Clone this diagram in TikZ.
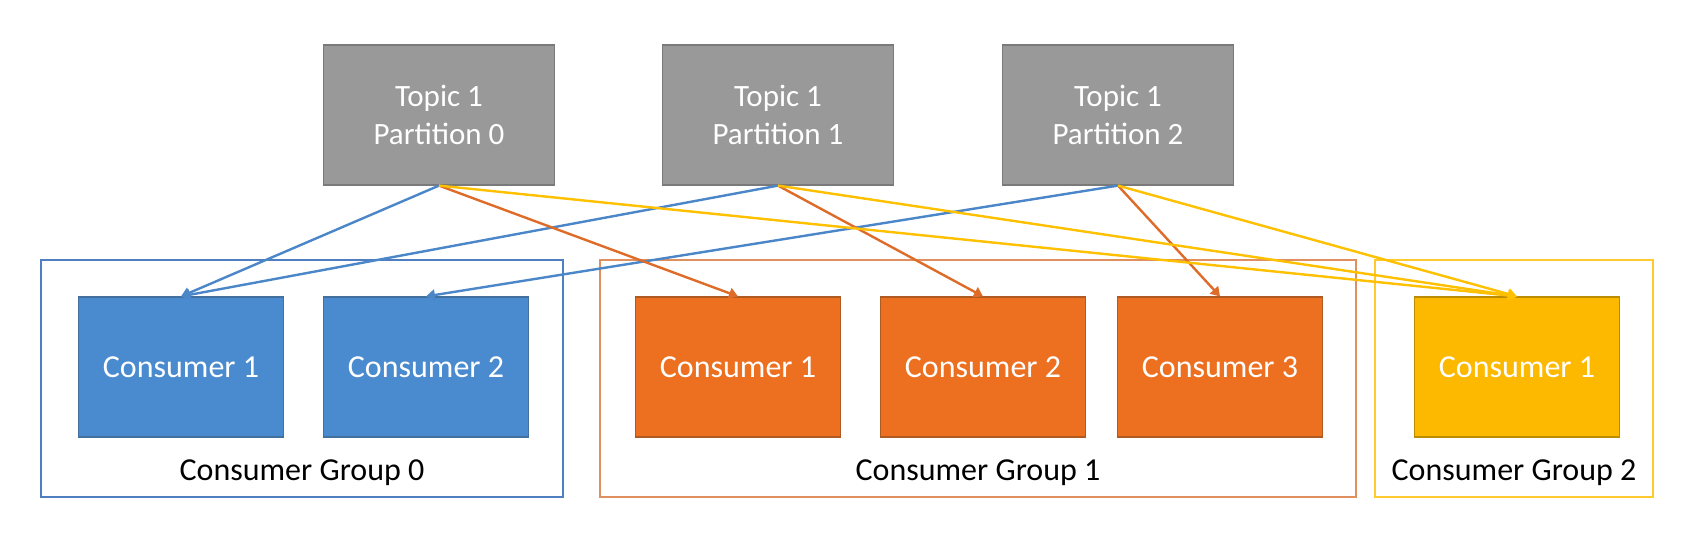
\documentclass[tikz,border=0pt]{standalone}
\usepackage{fontspec}
\setmainfont{Carlito}
\usetikzlibrary{arrows.meta}
\definecolor{topicfill}{HTML}{999999}
\definecolor{topicdraw}{HTML}{7A7A7A}
\definecolor{bluefill}{HTML}{4A8BCF}
\definecolor{bluedraw}{HTML}{41719C}
\definecolor{orangefill}{HTML}{ED7020}
\definecolor{orangedraw}{HTML}{AE5A21}
\definecolor{yellowfill}{HTML}{FDB900}
\definecolor{yellowdraw}{HTML}{BC8C00}
\definecolor{blueline}{HTML}{4A86C8}
\definecolor{orangeline}{HTML}{DE6C28}
\definecolor{yellowline}{HTML}{FFC000}
\definecolor{bluegrp}{HTML}{4F7FC0}
\definecolor{orangegrp}{HTML}{E0905E}
\definecolor{yellowgrp}{HTML}{FFCA2E}
\tikzset{
  topicbox/.style={draw=topicdraw, line width=1.2pt, fill=topicfill, text=white,
    minimum width=231pt, minimum height=140pt, inner sep=0pt, align=center,
    font=\fontsize{31}{38}\selectfont},
  consbox/.style={line width=1.2pt, text=white, minimum width=205pt, minimum height=140pt,
    inner sep=0pt, font=\fontsize{32}{39}\selectfont},
  grpbox/.style={line width=1.6pt, minimum height=237pt, inner sep=0pt},
  grplabel/.style={font=\fontsize{32}{39}\selectfont, text=black, inner sep=0pt},
  link/.style={line width=2.4pt, -{Triangle[width=11pt,length=9pt]}}
}
\begin{document}
\begin{tikzpicture}[x=1pt,y=-1pt]
\useasboundingbox (0,0) rectangle (1694,539);
% groups
\node[grpbox, draw=bluegrp, minimum width=522pt] (g0) at (302,378.5) {};
\node[grpbox, draw=orangegrp, minimum width=756pt] (g1) at (978,378.5) {};
\node[grpbox, draw=yellowgrp, minimum width=278pt] (g2) at (1514,378.5) {};
\node[grplabel] (l0) at (302,473) {Consumer Group 0};
\node[grplabel] (l1) at (978,473) {Consumer Group 1};
\node[grplabel] (l2) at (1514,473) {Consumer Group 2};
% topics
\node[topicbox] (p0) at (439,115) {Topic 1\\Partition 0};
\node[topicbox] (p1) at (778,115) {Topic 1\\Partition 1};
\node[topicbox] (p2) at (1118,115) {Topic 1\\Partition 2};
% consumers
\node[consbox, draw=bluedraw, fill=bluefill] (b1) at (181,367) {Consumer 1};
\node[consbox, draw=bluedraw, fill=bluefill] (b2) at (426,367) {Consumer 2};
\node[consbox, draw=orangedraw, fill=orangefill] (o1) at (738,367) {Consumer 1};
\node[consbox, draw=orangedraw, fill=orangefill] (o2) at (983,367) {Consumer 2};
\node[consbox, draw=orangedraw, fill=orangefill] (o3) at (1220,367) {Consumer 3};
\node[consbox, draw=yellowdraw, fill=yellowfill] (y1) at (1517,367) {Consumer 1};
% links
\draw[link, blueline] (p0.south) -- (b1.north);
\draw[link, blueline] (p1.south) -- (b1.north);
\draw[link, blueline] (p2.south) -- (b2.north);
\draw[link, orangeline] (p0.south) -- (o1.north);
\draw[link, orangeline] (p1.south) -- (o2.north);
\draw[link, orangeline] (p2.south) -- (o3.north);
\draw[link, yellowline] (p0.south) -- (y1.north);
\draw[link, yellowline] (p1.south) -- (y1.north);
\draw[link, yellowline] (p2.south) -- (y1.north);
\end{tikzpicture}
\end{document}
